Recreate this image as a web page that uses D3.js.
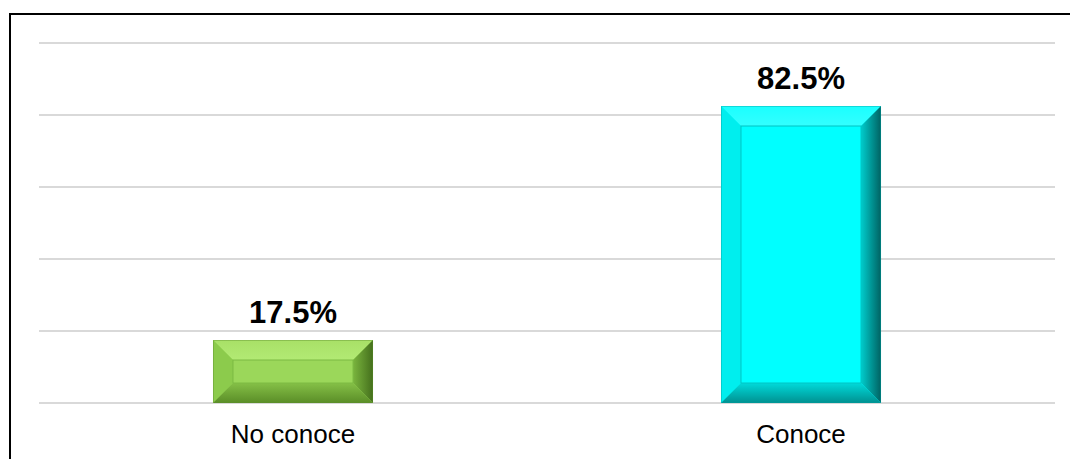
<!DOCTYPE html>
<html><head><meta charset="utf-8">
<script src="https://cdn.jsdelivr.net/npm/d3@7/dist/d3.min.js"></script>
<style>body{margin:0;background:#fff;}svg{display:block;}</style>
</head><body>
<svg id="c" width="1070" height="459"></svg>
<script>
const categories = ["No conoce", "Conoce"];
const values = [17.5, 82.5];
const valueLabels = ["17.5%", "82.5%"];
const yTicks = [0, 20, 40, 60, 80, 100];

const palettes = [
  {face:"#9bd75a", topA:"#a8e067", topB:"#b2ea74", left:"#8ccb4c", rightA:"#7ab53e", rightB:"#446f1c", botA:"#85c047", botB:"#5a8d27", inner:"#7cba43", edge:"#5d8f2c"},
  {face:"#00ffff", topA:"#1affff", topB:"#33ffff", left:"#00eeee", rightA:"#00cccc", rightB:"#006262", botA:"#00dada", botB:"#009090", inner:"#00c4c4", edge:"#00a0a0"}
];

const svg = d3.select("#c");
const x = d3.scaleBand().domain(categories).range([39, 1055]).paddingInner(0).paddingOuter(0);
const y = d3.scaleLinear().domain([0, 100]).range([403, 43]);

// border
svg.append("rect").attr("x",10).attr("y",14).attr("width",1080).attr("height",480)
  .attr("fill","none").attr("stroke","#000").attr("stroke-width",2);

// gridlines
svg.append("g").selectAll("line").data(yTicks).join("line")
  .attr("x1",39).attr("x2",1055).attr("y1",d=>y(d)).attr("y2",d=>y(d))
  .attr("stroke","#d9d9d9").attr("stroke-width",2);

const defs = svg.append("defs");
palettes.forEach((p,i)=>{
  const gr = defs.append("linearGradient").attr("id","r"+i).attr("x1","0").attr("x2","1").attr("y1","0").attr("y2","0");
  gr.append("stop").attr("offset","0").attr("stop-color",p.rightA);
  gr.append("stop").attr("offset","1").attr("stop-color",p.rightB);
  const gb = defs.append("linearGradient").attr("id","b"+i).attr("x1","0").attr("x2","0").attr("y1","0").attr("y2","1");
  gb.append("stop").attr("offset","0").attr("stop-color",p.botA);
  gb.append("stop").attr("offset","1").attr("stop-color",p.botB);
  const gt = defs.append("linearGradient").attr("id","t"+i).attr("x1","0").attr("x2","0").attr("y1","0").attr("y2","1");
  gt.append("stop").attr("offset","0").attr("stop-color",p.topA);
  gt.append("stop").attr("offset","1").attr("stop-color",p.topB);
});

const barFrac = 0.315;
const bev = 20;
categories.forEach((c,i)=>{
  const p = palettes[i];
  const bw = x.bandwidth()*barFrac;
  const x0 = x(c) + (x.bandwidth()-bw)/2, x1 = x0 + bw;
  const y0 = y(values[i]), y1 = y(0);
  const g = svg.append("g");
  const pts = a => a.map(q=>q.join(",")).join(" ");
  g.append("rect").attr("x",x0).attr("y",y0).attr("width",bw).attr("height",y1-y0).attr("fill",p.face);
  g.append("polygon").attr("points",pts([[x0,y0],[x1,y0],[x1-bev,y0+bev],[x0+bev,y0+bev]])).attr("fill","url(#t"+i+")");
  g.append("polygon").attr("points",pts([[x0,y0],[x0+bev,y0+bev],[x0+bev,y1-bev],[x0,y1]])).attr("fill",p.left);
  g.append("polygon").attr("points",pts([[x1,y0],[x1,y1],[x1-bev,y1-bev],[x1-bev,y0+bev]])).attr("fill","url(#r"+i+")");
  g.append("polygon").attr("points",pts([[x0,y1],[x0+bev,y1-bev],[x1-bev,y1-bev],[x1,y1]])).attr("fill","url(#b"+i+")");
  g.append("rect").attr("x",x0+bev).attr("y",y0+bev).attr("width",bw-2*bev).attr("height",Math.max(0,y1-y0-2*bev))
    .attr("fill",p.face).attr("stroke",p.inner).attr("stroke-width",1);
  g.append("rect").attr("x",x0+0.5).attr("y",y0+0.5).attr("width",bw-1).attr("height",y1-y0-1)
    .attr("fill","none").attr("stroke",p.edge).attr("stroke-width",1).attr("stroke-opacity",0.4);
  svg.append("text").attr("x",x(c)+x.bandwidth()/2).attr("y",y0-17)
    .attr("text-anchor","middle").attr("font-family","Liberation Sans, Arial, sans-serif")
    .attr("font-weight","bold").attr("font-size",31).attr("fill","#000").text(valueLabels[i]);
  svg.append("text").attr("x",x(c)+x.bandwidth()/2).attr("y",443)
    .attr("text-anchor","middle").attr("font-family","Liberation Sans, Arial, sans-serif")
    .attr("font-size",26).attr("fill","#000").text(c);
});
</script>
</body></html>
